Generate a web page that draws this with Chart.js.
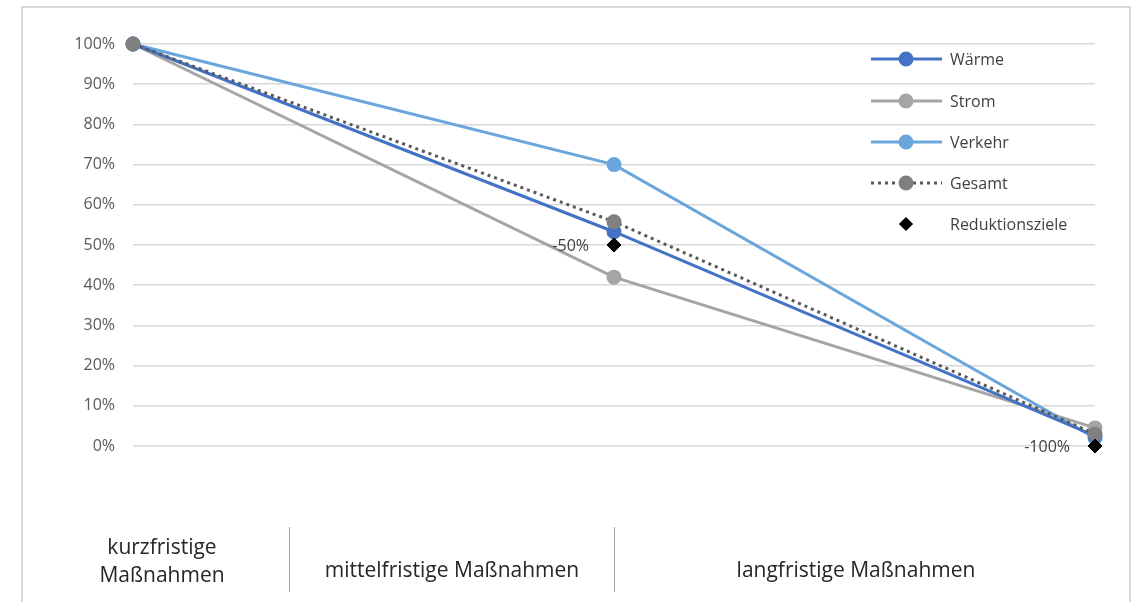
<!DOCTYPE html>
<html>
<head>
<meta charset="utf-8">
<script src="https://cdn.jsdelivr.net/npm/chart.js@4/dist/chart.umd.min.js"></script>
<style>
  html, body { margin: 0; padding: 0; background: #fff; }
  #wrap { position: relative; width: 1133px; height: 602px; overflow: hidden; }
  #frame { position: absolute; left: 21px; top: 6px; width: 1110px; height: 700px; border: 2px solid #d9d9d9; box-sizing: border-box; }
  canvas { position: absolute; left: 0; top: 0; }
  .sep { position: absolute; width: 1px; background: #a6a6a6; top: 527px; height: 65px; }
  .phase { position: absolute; font-family: "Open Sans", sans-serif; font-size: 21px; color: #262626; text-align: center; line-height: 28px; white-space: nowrap; }
</style>
</head>
<body>
<div id="wrap">
  <div id="frame"></div>
  <canvas id="c" width="1133" height="602"></canvas>
  <div class="sep" style="left:289px"></div>
  <div class="sep" style="left:614px"></div>
  <div id="phases"></div>
</div>
<script>
// ---- data ----
const categories = ['kurzfristig', 'mittelfristig', 'langfristig'];
const waerme = [100, 53.3, 2.5];
const strom = [100, 42, 4.5];
const verkehr = [100, 70, 2];
const gesamt = [100, 55.8, 3];
const reduktionsziele = [null, 50, 0];
const zielLabels = [null, '-50%', '-100%'];
const yTicks = [0, 10, 20, 30, 40, 50, 60, 70, 80, 90, 100];
const phaseLabels = ['kurzfristige\nMaßnahmen', 'mittelfristige Maßnahmen', 'langfristige Maßnahmen'];

// ---- bottom phase labels (text boxes below the chart) ----
const phaseBoxes = [
  {left: 60, width: 204, top: 532},
  {left: 290, width: 324, top: 555},
  {left: 615, width: 482, top: 555}
];
const phasesEl = document.getElementById('phases');
phaseLabels.forEach((t, i) => {
  const d = document.createElement('div');
  d.className = 'phase';
  d.style.left = phaseBoxes[i].left + 'px';
  d.style.width = phaseBoxes[i].width + 'px';
  d.style.top = phaseBoxes[i].top + 'px';
  d.innerHTML = t.split('\n').join('<br>');
  phasesEl.appendChild(d);
});

const FONT = '"Open Sans", sans-serif';
const TEXT = '#404040';

const legendPlugin = {
  id: 'customLegend',
  afterDraw(chart) {
    const ctx = chart.ctx;
    const rows = [59, 101, 142, 183, 224];
    const order = [0, 1, 2, 3, 4];
    ctx.save();
    order.forEach((di, r) => {
      const ds = chart.data.datasets[di];
      const y = rows[r];
      if (ds.showLine !== false) {
        ctx.beginPath();
        ctx.strokeStyle = ds.borderColor;
        ctx.lineWidth = ds.borderWidth;
        ctx.lineCap = ds.borderCapStyle || 'butt';
        ctx.setLineDash(ds.borderDash || []);
        ctx.moveTo(871, y);
        ctx.lineTo(942, y);
        ctx.stroke();
        ctx.setLineDash([]);
      }
      ctx.fillStyle = ds.pointBackgroundColor;
      ctx.strokeStyle = ds.pointBorderColor;
      Chart.helpers.drawPoint(ctx, {pointStyle: ds.pointStyle, radius: ds.legendRadius || ds.pointRadius, borderWidth: 1, rotation: 0}, 906, y);
      ctx.font = '16px ' + FONT;
      ctx.fillStyle = TEXT;
      ctx.textAlign = 'left';
      ctx.textBaseline = 'middle';
      ctx.fillText(ds.label, 950, y + 1);
    });
    ctx.restore();
  }
};

const zielLabelPlugin = {
  id: 'zielLabels',
  afterDatasetsDraw(chart) {
    const idx = chart.data.datasets.findIndex(d => d.label === 'Reduktionsziele');
    const meta = chart.getDatasetMeta(idx);
    const ctx = chart.ctx;
    ctx.save();
    ctx.font = '16px ' + FONT;
    ctx.fillStyle = TEXT;
    ctx.textAlign = 'right';
    ctx.textBaseline = 'middle';
    meta.data.forEach((pt, i) => {
      if (zielLabels[i] == null || reduktionsziele[i] == null) return;
      ctx.fillText(zielLabels[i], pt.x - 25, pt.y + 1);
    });
    ctx.restore();
  }
};

new Chart(document.getElementById('c'), {
  type: 'line',
  data: {
    labels: categories,
    datasets: [
      { label: 'Wärme', data: waerme, borderColor: '#4472C4', backgroundColor: '#4472C4', borderWidth: 3,
        pointBackgroundColor: '#4472C4', pointBorderColor: '#4472C4', pointRadius: 6, pointStyle: 'circle', order: 2, clip: false },
      { label: 'Strom', data: strom, borderColor: '#A5A5A5', backgroundColor: '#A5A5A5', borderWidth: 3,
        pointBackgroundColor: '#A5A5A5', pointBorderColor: '#A5A5A5', pointRadius: 6, pointStyle: 'circle', order: 4, clip: false },
      { label: 'Verkehr', data: verkehr, borderColor: '#6AA5DB', backgroundColor: '#6AA5DB', borderWidth: 3,
        pointBackgroundColor: '#6AA5DB', pointBorderColor: '#6AA5DB', pointRadius: 6, pointStyle: 'circle', order: 3, clip: false },
      { label: 'Gesamt', data: gesamt, borderColor: '#595959', backgroundColor: '#808080', borderWidth: 3,
        borderDash: [3, 4], borderCapStyle: 'butt',
        pointBackgroundColor: '#808080', pointBorderColor: '#808080', pointRadius: 6, pointStyle: 'circle', order: 1, clip: false },
      { label: 'Reduktionsziele', data: reduktionsziele, showLine: false, borderColor: '#000', backgroundColor: '#000',
        pointBackgroundColor: '#000', pointBorderColor: '#000', pointBorderWidth: 1, pointRadius: 7, legendRadius: 5,
        pointStyle: 'rectRot', order: 0, clip: false }
    ]
  },
  options: {
    responsive: false,
    animation: false,
    events: [],
    layout: { padding: { left: 73, top: 44, right: 38, bottom: 156 } },
    plugins: { legend: { display: false }, tooltip: { enabled: false } },
    scales: {
      x: { display: false },
      y: {
        min: 0, max: 100,
        afterFit(s) { s.width = 60; },
        afterBuildTicks(s) { s.ticks = yTicks.map(v => ({ value: v })); },
        border: { display: false },
        grid: { color: '#d9d9d9', lineWidth: 1.5, drawTicks: false },
        ticks: { padding: 18, color: '#595959', font: { family: FONT, size: 16 }, callback: v => v + '%' }
      }
    }
  },
  plugins: [legendPlugin, zielLabelPlugin]
});
</script>
</body>
</html>
